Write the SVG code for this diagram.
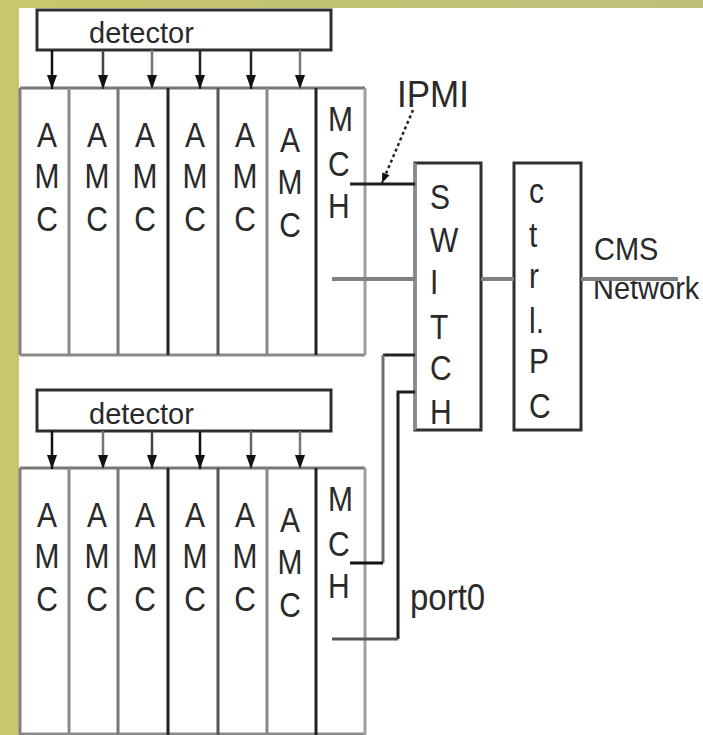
<svg xmlns="http://www.w3.org/2000/svg" width="703" height="735" viewBox="0 0 703 735">
  <defs>
    <linearGradient id="olive" x1="0" y1="0" x2="1" y2="0">
      <stop offset="0" stop-color="#c8c76c"/>
      <stop offset="1" stop-color="#bcc07c"/>
    </linearGradient>
    <marker id="arr" markerUnits="userSpaceOnUse" viewBox="0 0 14 10" markerWidth="14" markerHeight="10" refX="14" refY="5" orient="auto">
      <path d="M0,0 L14,5 L0,10 z" fill="#111"/>
    </marker>
    <marker id="arrs" markerUnits="userSpaceOnUse" viewBox="0 0 10 8" markerWidth="10" markerHeight="8" refX="10" refY="4" orient="auto">
      <path d="M0,0 L10,4 L0,8 z" fill="#111"/>
    </marker>
  </defs>
  <style>
    .t { font-family: "Liberation Sans", Arial, sans-serif; fill: #2a2a2a; }
    .big { font-size: 30px; }
    .mid { text-anchor: middle; }
    .det { font-size: 29px; }
    .box { fill: #fff; stroke: #2e2e2e; stroke-width: 3; }
    .arrowline { stroke-width: 2.5; fill: none; marker-end: url(#arr); }
    .conn { fill: none; stroke-width: 3; }
  </style>

  <g id="background">
    <rect x="0" y="0" width="703" height="735" fill="url(#olive)"/>
    <rect x="19" y="8" width="684" height="727" fill="#ffffff"/>
  </g>

  <!-- ===== Upper crate ===== -->
  <g id="upper-detector">
    <rect class="box" x="37" y="10" width="294" height="40" stroke="#3a3a3a"/>
    <text class="t det" x="89" y="43">detector</text>
  </g>

  <g id="upper-crate">
    <line x1="20" y1="88" x2="365" y2="88" stroke="#777" stroke-width="3"/>
    <line x1="20" y1="355" x2="365" y2="355" stroke="#8a8a8a" stroke-width="3"/>
    <line x1="20" y1="88" x2="20" y2="355" stroke="#808080" stroke-width="3"/>
    <line x1="365" y1="88" x2="365" y2="355" stroke="#a0a0a0" stroke-width="3"/>
  </g>
  <g id="upper-amc1">
    <text class="t big mid" transform="translate(47 147) scale(1 1.15)">A</text>
    <text class="t big mid" transform="translate(47 188) scale(1 1.15)">M</text>
    <text class="t big mid" transform="translate(47 231) scale(1 1.15)">C</text>
  </g>
  <g id="upper-amc2">
    <line x1="69" y1="88" x2="69" y2="355" stroke="#8a8a8a" stroke-width="3"/>
    <text class="t big mid" transform="translate(97 147) scale(1 1.15)">A</text>
    <text class="t big mid" transform="translate(97 188) scale(1 1.15)">M</text>
    <text class="t big mid" transform="translate(97 231) scale(1 1.15)">C</text>
  </g>
  <g id="upper-amc3">
    <line x1="118" y1="88" x2="118" y2="355" stroke="#777" stroke-width="3"/>
    <text class="t big mid" transform="translate(145 147) scale(1 1.15)">A</text>
    <text class="t big mid" transform="translate(145 188) scale(1 1.15)">M</text>
    <text class="t big mid" transform="translate(145 231) scale(1 1.15)">C</text>
  </g>
  <g id="upper-amc4">
    <line x1="168" y1="88" x2="168" y2="355" stroke="#222" stroke-width="3"/>
    <text class="t big mid" transform="translate(195 147) scale(1 1.15)">A</text>
    <text class="t big mid" transform="translate(195 188) scale(1 1.15)">M</text>
    <text class="t big mid" transform="translate(195 231) scale(1 1.15)">C</text>
  </g>
  <g id="upper-amc5">
    <line x1="218" y1="88" x2="218" y2="355" stroke="#555" stroke-width="3"/>
    <text class="t big mid" transform="translate(245 147) scale(1 1.15)">A</text>
    <text class="t big mid" transform="translate(245 188) scale(1 1.15)">M</text>
    <text class="t big mid" transform="translate(245 231) scale(1 1.15)">C</text>
  </g>
  <g id="upper-amc6">
    <line x1="267" y1="88" x2="267" y2="355" stroke="#888" stroke-width="3"/>
    <text class="t big mid" transform="translate(290 152) scale(1 1.15)">A</text>
    <text class="t big mid" transform="translate(290 194) scale(1 1.15)">M</text>
    <text class="t big mid" transform="translate(290 237) scale(1 1.15)">C</text>
  </g>
  <g id="upper-mch">
    <line x1="316" y1="88" x2="316" y2="355" stroke="#222" stroke-width="3"/>
    <text class="t big" transform="translate(328 131) scale(1 1.15)">M</text>
    <text class="t big" transform="translate(328 176) scale(1 1.15)">C</text>
    <text class="t big" transform="translate(328 218) scale(1 1.15)">H</text>
  </g>

  <!-- ===== Lower crate ===== -->
  <g id="lower-detector">
    <rect class="box" x="37" y="390" width="294" height="41" stroke="#3a3a3a"/>
    <text class="t det" x="89" y="424">detector</text>
  </g>

  <g id="lower-crate">
    <line x1="20" y1="468" x2="365" y2="468" stroke="#777" stroke-width="3"/>
    <line x1="20" y1="734" x2="365" y2="734" stroke="#8a8a8a" stroke-width="3"/>
    <line x1="20" y1="468" x2="20" y2="735" stroke="#808080" stroke-width="3"/>
    <line x1="365" y1="468" x2="365" y2="735" stroke="#a0a0a0" stroke-width="3"/>
  </g>
  <g id="lower-amc1">
    <text class="t big mid" transform="translate(47 527) scale(1 1.15)">A</text>
    <text class="t big mid" transform="translate(47 568) scale(1 1.15)">M</text>
    <text class="t big mid" transform="translate(47 611) scale(1 1.15)">C</text>
  </g>
  <g id="lower-amc2">
    <line x1="69" y1="468" x2="69" y2="735" stroke="#8a8a8a" stroke-width="3"/>
    <text class="t big mid" transform="translate(97 527) scale(1 1.15)">A</text>
    <text class="t big mid" transform="translate(97 568) scale(1 1.15)">M</text>
    <text class="t big mid" transform="translate(97 611) scale(1 1.15)">C</text>
  </g>
  <g id="lower-amc3">
    <line x1="118" y1="468" x2="118" y2="735" stroke="#777" stroke-width="3"/>
    <text class="t big mid" transform="translate(145 527) scale(1 1.15)">A</text>
    <text class="t big mid" transform="translate(145 568) scale(1 1.15)">M</text>
    <text class="t big mid" transform="translate(145 611) scale(1 1.15)">C</text>
  </g>
  <g id="lower-amc4">
    <line x1="168" y1="468" x2="168" y2="735" stroke="#222" stroke-width="3"/>
    <text class="t big mid" transform="translate(195 527) scale(1 1.15)">A</text>
    <text class="t big mid" transform="translate(195 568) scale(1 1.15)">M</text>
    <text class="t big mid" transform="translate(195 611) scale(1 1.15)">C</text>
  </g>
  <g id="lower-amc5">
    <line x1="218" y1="468" x2="218" y2="735" stroke="#555" stroke-width="3"/>
    <text class="t big mid" transform="translate(245 527) scale(1 1.15)">A</text>
    <text class="t big mid" transform="translate(245 568) scale(1 1.15)">M</text>
    <text class="t big mid" transform="translate(245 611) scale(1 1.15)">C</text>
  </g>
  <g id="lower-amc6">
    <line x1="267" y1="468" x2="267" y2="735" stroke="#888" stroke-width="3"/>
    <text class="t big mid" transform="translate(290 532) scale(1 1.15)">A</text>
    <text class="t big mid" transform="translate(290 574) scale(1 1.15)">M</text>
    <text class="t big mid" transform="translate(290 617) scale(1 1.15)">C</text>
  </g>
  <g id="lower-mch">
    <line x1="316" y1="468" x2="316" y2="735" stroke="#222" stroke-width="3"/>
    <text class="t big" transform="translate(328 511) scale(1 1.15)">M</text>
    <text class="t big" transform="translate(328 556) scale(1 1.15)">C</text>
    <text class="t big" transform="translate(328 598) scale(1 1.15)">H</text>
  </g>

  <!-- ===== Switch and controller PC ===== -->
  <g id="switch">
    <rect class="box" x="415" y="163" width="66" height="267" stroke="#3a3a3a"/>
    <line x1="415" y1="163" x2="415" y2="430" stroke="#8a8a8a" stroke-width="3"/>
    <text class="t big" transform="translate(430 209) scale(1 1.15)">S</text>
    <text class="t big" transform="translate(430 252) scale(1 1.15)">W</text>
    <text class="t big" transform="translate(430 294) scale(1 1.15)">I</text>
    <text class="t big" transform="translate(430 339) scale(1 1.15)">T</text>
    <text class="t big" transform="translate(430 380) scale(1 1.15)">C</text>
    <text class="t big" transform="translate(430 424) scale(1 1.15)">H</text>
  </g>
  <g id="ctrl-pc">
    <rect class="box" x="514" y="163" width="67" height="267" stroke="#262626"/>
    <text class="t big" transform="translate(529 203) scale(1 1.15)">c</text>
    <text class="t big" transform="translate(529 247) scale(1 1.15)">t</text>
    <text class="t big" transform="translate(529 288) scale(1 1.15)">r</text>
    <text class="t big" transform="translate(529 333) scale(1 1.15)">l.</text>
    <text class="t big" transform="translate(529 373) scale(1 1.15)">P</text>
    <text class="t big" transform="translate(529 418) scale(1 1.15)">C</text>
  </g>

  <!-- ===== Labels ===== -->
  <g id="labels">
    <text class="t" font-size="35" transform="translate(397 107) scale(1 1.08)">IPMI</text>
    <text class="t" font-size="29" transform="translate(594 260) scale(1 1.08)">CMS</text>
    <text class="t" font-size="29" transform="translate(593 299) scale(1 1.08)">Network</text>
    <text class="t" font-size="33" transform="translate(410 610) scale(1 1.1)">port0</text>
  </g>

  <!-- ===== Connectors ===== -->
  <g id="connectors">
    <!-- upper detector arrows -->
    <line class="arrowline" x1="52" y1="50" x2="52" y2="89" stroke="#111"/>
    <line class="arrowline" x1="103" y1="50" x2="103" y2="89" stroke="#444"/>
    <line class="arrowline" x1="152" y1="50" x2="152" y2="89" stroke="#777"/>
    <line class="arrowline" x1="200" y1="50" x2="200" y2="89" stroke="#222"/>
    <line class="arrowline" x1="251" y1="50" x2="251" y2="89" stroke="#222"/>
    <line class="arrowline" x1="300" y1="50" x2="300" y2="89" stroke="#777"/>
    <!-- lower detector arrows -->
    <line class="arrowline" x1="52" y1="431" x2="52" y2="469" stroke="#111"/>
    <line class="arrowline" x1="103" y1="431" x2="103" y2="469" stroke="#777"/>
    <line class="arrowline" x1="152" y1="431" x2="152" y2="469" stroke="#444"/>
    <line class="arrowline" x1="200" y1="431" x2="200" y2="469" stroke="#111"/>
    <line class="arrowline" x1="251" y1="431" x2="251" y2="469" stroke="#666"/>
    <line class="arrowline" x1="300" y1="431" x2="300" y2="469" stroke="#777"/>

    <!-- upper MCH to switch -->
    <line class="conn" x1="350" y1="184" x2="415" y2="184" stroke="#1e1e1e"/>
    <!-- IPMI dotted pointer -->
    <line x1="413" y1="110" x2="382" y2="183" stroke="#222" stroke-width="2.5" stroke-dasharray="3 3" marker-end="url(#arrs)"/>
    <!-- upper crate backplane to switch -->
    <line x1="332" y1="279" x2="415" y2="279" stroke="#808080" stroke-width="4"/>
    <!-- switch to ctrl PC -->
    <line x1="481" y1="279" x2="514" y2="279" stroke="#808080" stroke-width="4"/>
    <!-- ctrl PC to CMS network -->
    <line x1="581" y1="279" x2="678" y2="279" stroke="#808080" stroke-width="4"/>
    <!-- lower MCH to switch -->
    <polyline class="conn" points="415,355 383,355" stroke="#222"/>
    <polyline class="conn" points="383,355 383,563" stroke="#707070"/>
    <polyline class="conn" points="383,563 350,563" stroke="#111"/>
    <!-- lower port0 to switch -->
    <polyline class="conn" points="415,392 398,392 398,639" stroke="#1e1e1e"/>
    <polyline class="conn" points="398,639 332,639" stroke="#555"/>
  </g>
</svg>
